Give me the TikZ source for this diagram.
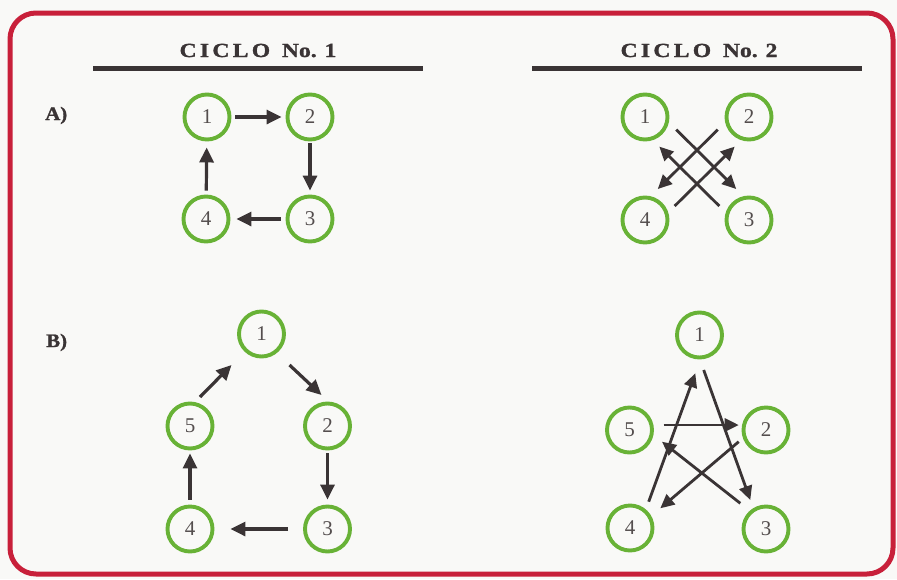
\documentclass[tikz,border=0pt]{standalone}
\usepackage{fontspec}
\setmainfont{Liberation Serif}
\newfontfamily\headfont{Liberation Serif}[FakeBold=1.2]
\usetikzlibrary{arrows.meta}
\definecolor{framered}{RGB}{200,32,58}
\definecolor{ring}{RGB}{104,178,54}
\definecolor{ink}{RGB}{58,52,53}
\definecolor{digit}{RGB}{84,78,78}
\definecolor{paper}{RGB}{249,249,247}
% letter-spaced, widened heading text
\newcommand{\cyclehead}[1]{\scalebox{1.18}[1]{{\addfontfeature{LetterSpace=14}CICLO}\hspace{5pt} No. #1}}
\begin{document}
\begin{tikzpicture}[x=1pt,y=-1pt,
  state/.style={circle, draw=ring, line width=3.9pt, minimum size=45pt,
    inner sep=0pt, fill=paper, text=digit, font=\fontsize{21}{21}\selectfont},
  arr/.style={draw=ink, line width=3.2pt, -{Triangle[length=15pt,width=14pt]}},
  xarr/.style={draw=ink, line width=2.8pt, -{Triangle[length=14pt,width=13pt]}},
  heading/.style={anchor=base, text=ink, inner sep=0pt,
    font=\fontsize{20}{20}\selectfont\headfont\bfseries},
  part/.style={anchor=base west, text=ink, inner sep=0pt,
    font=\fontsize{19}{19}\selectfont\headfont\bfseries},
  bar/.style={draw=ink, line width=5.5pt}
]
\useasboundingbox (0,0) rectangle (897,579);
\fill[paper] (0,0) rectangle (897,579);
% outer frame
\draw[framered, line width=5pt, rounded corners=26pt] (10,13) rectangle (893,574);

% column headings
\node[heading] (h1) at (258,57) {\cyclehead{1}};
\node[heading] (h2) at (699,57) {\cyclehead{2}};
\coordinate (u1l) at (93,68.5);  \coordinate (u1r) at (423,68.5);
\coordinate (u2l) at (532,68.5); \coordinate (u2r) at (862,68.5);
\draw[bar] (u1l) -- (u1r);
\draw[bar] (u2l) -- (u2r);

% row labels
\node[part] (la) at (45,120) {\scalebox{1.1}[1]{A)}};
\node[part] (lb) at (46,347) {\scalebox{1.1}[1]{B)}};

% ---- A, cycle 1: square ring
\node[state] (a1) at (207,117) {1};
\node[state] (a2) at (310,117) {2};
\node[state] (a3) at (310,219) {3};
\node[state] (a4) at (206,219) {4};
\draw[arr, shorten <=4pt, shorten >=4pt] (a1) -- (a2);
\draw[arr, shorten <=2pt, shorten >=4pt] (a2) -- (a3);
\draw[arr, shorten <=5pt, shorten >=6pt] (a3) -- (a4);
\draw[arr, shorten <=4pt, shorten >=6pt] (a4) -- (a1);

% ---- A, cycle 2: crossed diagonals
\node[state] (p1) at (645,117) {1};
\node[state] (p2) at (749,117) {2};
\node[state] (p3) at (749,220) {3};
\node[state] (p4) at (645,220) {4};
\draw[xarr] ([shift={(31.2,12.6)}]p1.center) -- ([shift={(-12.8,-31)}]p3.center);
\draw[xarr] ([shift={(-29.7,-14)}]p3.center) -- ([shift={(14.3,29.6)}]p1.center);
\draw[xarr] ([shift={(-31.2,12.6)}]p2.center) -- ([shift={(12.8,-31)}]p4.center);
\draw[xarr] ([shift={(29.7,-14)}]p4.center) -- ([shift={(-14.3,29.6)}]p2.center);

% ---- B, cycle 1: pentagon ring
\node[state] (b1) at (261.5,334) {1};
\node[state] (b2) at (327.5,426) {2};
\node[state] (b3) at (327.5,529) {3};
\node[state] (b4) at (190,529) {4};
\node[state] (b5) at (190,426) {5};
\draw[arr] ([shift={(10,-29)}]b5.center) -- ([shift={(-30,31)}]b1.center);
\draw[arr] ([shift={(28,31)}]b1.center) -- ([shift={(-6,-31)}]b2.center);
\draw[arr, shorten <=3pt, shorten >=5pt] (b2) -- (b3);
\draw[arr, shorten <=15pt, shorten >=16pt] (b3) -- (b4);
\draw[arr, shorten <=5pt, shorten >=3pt] (b4) -- (b5);

% ---- B, cycle 2: star
\node[state] (q1) at (699.5,335) {1};
\node[state] (q2) at (766,430) {2};
\node[state] (q3) at (766,529) {3};
\node[state] (q4) at (630,528) {4};
\node[state] (q5) at (629.5,430) {5};
\draw[xarr] ([shift={(18.7,-26.3)}]q4.center) -- ([shift={(-4.2,38.3)}]q1.center);
\draw[xarr] ([shift={(4.2,35)}]q1.center) -- ([shift={(-15.7,-29)}]q3.center);
\draw[xarr] ([shift={(34.2,-5)}]q5.center) -- ([shift={(-27.3,-5)}]q2.center);
\draw[xarr] ([shift={(-27.3,11.7)}]q2.center) -- ([shift={(30.3,-19.7)}]q4.center);
\draw[xarr] ([shift={(-25.7,-25.7)}]q3.center) -- ([shift={(32.5,11.7)}]q5.center);
\end{tikzpicture}
\end{document}
